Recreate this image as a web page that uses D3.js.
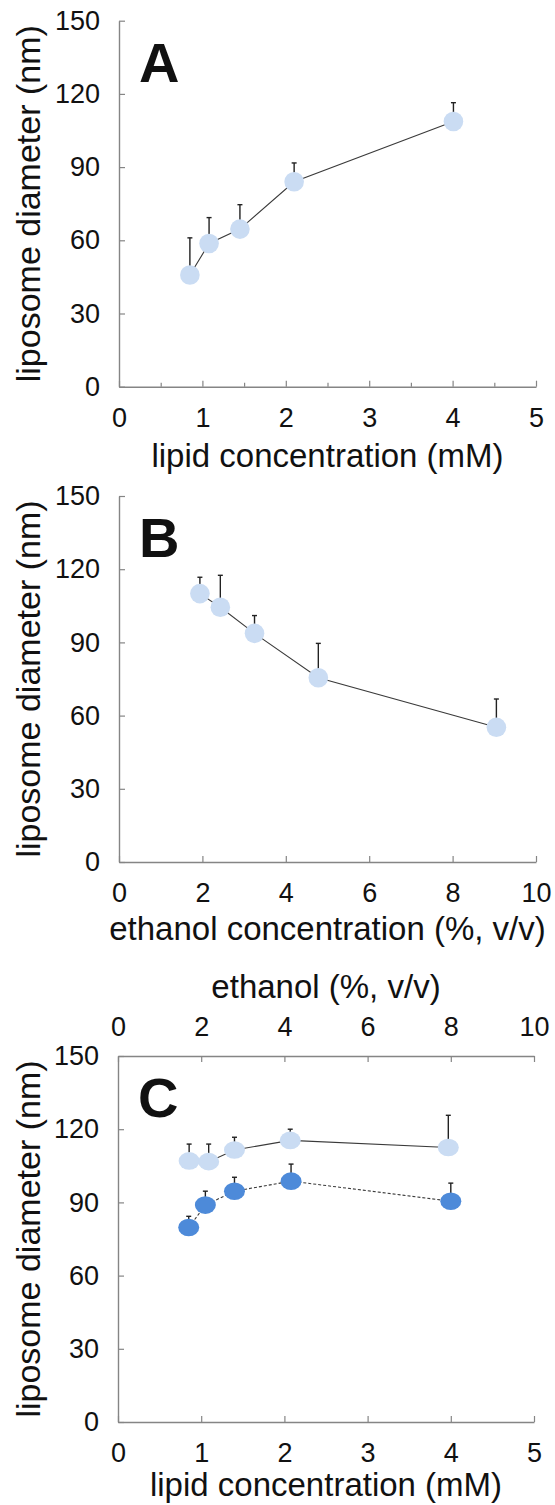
<!DOCTYPE html>
<html>
<head>
<meta charset="utf-8">
<script src="https://cdn.jsdelivr.net/npm/d3@7"></script>
<style>
  body { margin: 0; background: #fff; }
  text { font-family: "Liberation Sans", Arial, sans-serif; fill: #111; }
</style>
</head>
<body>
<svg id="fig" width="555" height="1505"></svg>
<script>
// panel A: diameter vs lipid concentration
let lipidA = [0.85, 1.08, 1.45, 2.10, 4.01]
let diamA = [45.8, 58.7, 64.6, 84.0, 108.7]
let errA = [15.2, 10.6, 10.0, 7.7, 7.7]

// panel B: diameter vs ethanol concentration
let ethanolB = [1.94, 2.43, 3.25, 4.78, 9.05]
let diamB = [110.0, 104.4, 93.7, 75.5, 55.2]
let errB = [6.7, 13.1, 7.3, 14.1, 11.6]

// panel C: two series vs lipid concentration
let lipidC1 = [0.855, 1.09, 1.40, 2.07, 3.97]
let diamC1 = [107.0, 106.7, 111.5, 115.4, 112.5]
let errC1 = [6.9, 7.2, 5.2, 4.6, 13.2]
let lipidC2 = [0.85, 1.05, 1.40, 2.08, 4.00]
let diamC2 = [79.7, 88.9, 94.6, 98.7, 90.5]
let errC2 = [4.6, 5.7, 5.7, 7.0, 7.4]

let yTicks = [0, 30, 60, 90, 120, 150]
let lipidTicks = [0, 1, 2, 3, 4, 5]
let lipidMinor = [0.5, 1.5, 2.5, 3.5, 4.5]
let ethanolTicks = [0, 2, 4, 6, 8, 10]

let light = "#cadcf3"
let dark = "#4d8ad9"
let axisColor = "#858585"
let tickFont = 27

let svg = d3.select("#fig")

function style_axis(g) {
  g.select(".domain").attr("stroke", axisColor).attr("stroke-width", 1.4)
  g.selectAll(".tick line").attr("stroke", axisColor).attr("stroke-width", 1.2)
  g.selectAll(".tick text").attr("font-size", tickFont).attr("fill", "#111")
}

function make_panel(p) {
  let x = d3.scaleLinear().domain(p.xdom).range([p.left, p.right])
  let y = d3.scaleLinear().domain([0, 150]).range([p.bottom, p.top])
  let g = svg.append("g")
  let fmt = d3.format("d")

  g.append("g")
    .attr("transform", `translate(${p.left},0)`)
    .call(d3.axisLeft(y).tickValues(yTicks).tickFormat(fmt).tickSizeInner(-6).tickSizeOuter(0).tickPadding(19))
    .call(style_axis)

  g.append("g")
    .attr("transform", `translate(0,${p.bottom})`)
    .call(d3.axisBottom(x).tickValues(p.xticks).tickFormat(fmt).tickSizeInner(-6).tickSizeOuter(0).tickPadding(21))
    .call(style_axis)

  if (p.minor) {
    g.append("g")
      .attr("transform", `translate(0,${p.bottom})`)
      .call(d3.axisBottom(x).tickValues(p.minor).tickSizeInner(-4).tickSizeOuter(0).tickFormat(""))
      .call(a => { style_axis(a); a.select(".domain").remove() })
  }

  if (p.topAxis) {
    let xt = d3.scaleLinear().domain([0, 10]).range([p.left, p.right])
    g.append("g")
      .attr("transform", `translate(0,${p.top})`)
      .call(d3.axisTop(xt).tickValues(ethanolTicks).tickFormat(fmt).tickSizeInner(-6).tickSizeOuter(0).tickPadding(20))
      .call(style_axis)
    g.append("text")
      .attr("x", (p.left + p.right) / 2).attr("y", p.top - 58)
      .attr("text-anchor", "middle").attr("font-size", 33)
      .text("ethanol (%, v/v)")
  }

  // axis titles
  g.append("text")
    .attr("x", (p.left + p.right) / 2).attr("y", p.bottom + p.titleGap)
    .attr("text-anchor", "middle").attr("font-size", 33)
    .text(p.xlabel)

  g.append("text")
    .attr("transform", `translate(40,${(p.top + p.bottom) / 2}) rotate(-90)`)
    .attr("text-anchor", "middle").attr("font-size", 34)
    .text("liposome diameter (nm)")

  g.append("text")
    .attr("x", p.left + 20).attr("y", p.top + 61)
    .attr("font-size", 56).attr("font-weight", "bold")
    .text(p.letter)

  p.series.forEach(s => {
    let pts = s.xs.map((v, i) => ({ x: v, y: s.ys[i], e: s.errs[i] }))

    g.append("path")
      .datum(pts)
      .attr("fill", "none")
      .attr("stroke", "#3a3a3a")
      .attr("stroke-width", 1.1)
      .attr("stroke-dasharray", s.dash ? "3,2" : null)
      .attr("d", d3.line().x(d => x(d.x)).y(d => y(d.y)))

    // upper error bars with small caps
    let bars = g.append("g").attr("stroke", "#222").attr("stroke-width", 1.4)
    bars.selectAll("line.bar").data(pts).enter()
      .append("line")
      .attr("class", "bar")
      .attr("x1", d => x(d.x)).attr("x2", d => x(d.x))
      .attr("y1", d => y(d.y)).attr("y2", d => y(d.y + d.e))
    bars.selectAll("line.cap").data(pts).enter()
      .append("line")
      .attr("class", "cap")
      .attr("x1", d => x(d.x) - 2.5).attr("x2", d => x(d.x) + 2.5)
      .attr("y1", d => y(d.y + d.e)).attr("y2", d => y(d.y + d.e))

    g.append("g").selectAll("ellipse").data(pts).enter()
      .append("ellipse")
      .attr("cx", d => x(d.x))
      .attr("cy", d => y(d.y))
      .attr("rx", s.rx)
      .attr("ry", s.ry)
      .attr("fill", s.color)
  })
}

make_panel({
  letter: "A", left: 119, right: 536, top: 20.7, bottom: 386.7, titleGap: 80,
  xdom: [0, 5], xticks: lipidTicks, minor: lipidMinor,
  xlabel: "lipid concentration (mM)",
  series: [{ xs: lipidA, ys: diamA, errs: errA, color: light, rx: 9.8, ry: 9.8 }]
})

make_panel({
  letter: "B", left: 119, right: 536, top: 496, bottom: 862, titleGap: 78,
  xdom: [0, 10], xticks: ethanolTicks,
  xlabel: "ethanol concentration (%, v/v)",
  series: [{ xs: ethanolB, ys: diamB, errs: errB, color: light, rx: 9.8, ry: 9.8 }]
})

make_panel({
  letter: "C", left: 118, right: 534, top: 1056, bottom: 1422, titleGap: 74,
  xdom: [0, 5], xticks: lipidTicks, topAxis: true,
  xlabel: "lipid concentration (mM)",
  series: [
    { xs: lipidC1, ys: diamC1, errs: errC1, color: light, rx: 10.5, ry: 8.8 },
    { xs: lipidC2, ys: diamC2, errs: errC2, color: dark, rx: 10.5, ry: 8.8, dash: true }
  ]
})
</script>
</body>
</html>
